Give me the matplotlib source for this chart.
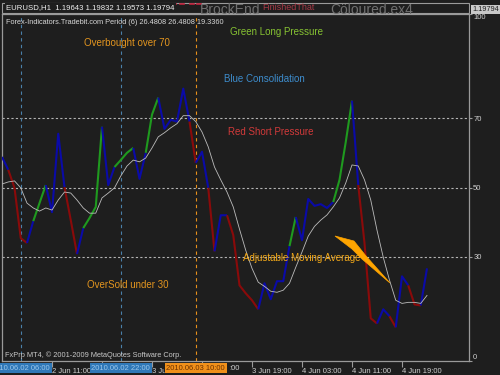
import matplotlib
matplotlib.use("Agg")
import matplotlib.pyplot as plt
from matplotlib.patches import Polygon, Rectangle
from matplotlib.lines import Line2D

# ---------------- data ----------------
# hours since 2 Jun 2010 00:00 (H1 bars), first bar at 03:00
hours = list(range(3, 72))
rsi = [58.8, 55.1, 49.9, 35.4, 34.0, 40.3, 45.5, 50.7, 42.9, 65.5,
       50.1, 40.6, 30.8, 38.3, 41.2, 44.4, 67.5, 50.7, 55.9, 57.9,
       60.0, 61.4, 52.5, 60.0, 71.0, 75.9, 66.9, 69.5, 69.0, 78.5,
       69.0, 57.1, 60.3, 49.9, 31.6, 42.0, 42.0, 36.3, 21.8, 19.5,
       17.5, 14.9, 22.4, 17.8, 23.0, 23.0, 33.1, 41.5, 34.8, 46.7,
       44.7, 45.2, 44.1, 45.8, 52.2, 63.1, 75.0, 50.7, 34.0, 12.3,
       10.8, 14.9, 12.9, 9.7, 24.4, 21.8, 16.3, 16.0, 26.7]
ma = [51.0, 51.6, 51.9, 49.9, 45.5, 44.1, 43.2, 44.1, 43.5, 46.4,
      48.7, 48.4, 46.4, 44.1, 42.6, 42.6, 47.0, 48.4, 49.9, 53.3,
      56.2, 57.9, 57.4, 58.5, 61.4, 64.6, 65.8, 67.2, 68.4, 70.7,
      70.7, 69.0, 66.0, 61.7, 55.9, 52.2, 48.7, 44.4, 38.0, 31.9,
      26.7, 22.7, 21.5, 20.1, 19.8, 20.4, 22.4, 27.0, 31.4, 36.0,
      38.8, 40.6, 42.1, 44.4, 47.0, 51.3, 56.5, 56.2, 52.2, 46.4,
      37.7, 29.9, 23.3, 17.5, 16.6, 16.9, 16.9, 16.6, 18.9]
# colour state of each segment between consecutive bars: B=consolidation, G=long, R=short
seg_state = ("BRRRBGGBBBRRBGGGBBGGGBBGGBBBBBRBBRBBRRRRRBBBBBGBBBBBBGGGBRRRBBRBBRRB")
levels = [30, 50, 70]
ytick_vals = [0, 30, 50, 70, 100]
xtick_hours = [11, 19, 27, 35, 43, 51, 59, 67]
# labels partly hidden behind the highlighted time boxes, as in the screenshot
xtick_labels = ["2 Jun 11:00", "", "3 Ju", "",
                "3 Jun 19:00", "4 Jun 03:00", "4 Jun 11:00", "4 Jun 19:00"]
vlines_hours = [6, 22, 34]
vlines_labels = ["2010.06.02 06:00", "2010.06.02 22:00", "2010.06.03 10:00"]
vlines_kind = ["blue", "blue", "orange"]

# ---------------- style ----------------
BG = "#1e1e1e"
FONT = "Liberation Sans"
colors = {"B": "#0a0aa8", "G": "#1f9a1f", "R": "#8a0a0a"}

W, H = 500, 375
fig = plt.figure(figsize=(5, 3.75), dpi=100, facecolor=BG)

def fx(px):
    return px / W

def fy(py):
    return 1 - py / H

L, R, T, B = 2, 469, 14, 361
ax = fig.add_axes([fx(L), fy(B), fx(R) - fx(L), (B - T) / H])
ax.set_facecolor(BG)
ax.set_xlim(3, 3 + (R - L) / 6.25)
ax.set_ylim(0, 100)
for s in ax.spines.values():
    s.set_color("#9a9a9a")
    s.set_linewidth(0.9)

# levels
for lv in levels:
    ax.axhline(lv, color="#b4b4b4", lw=0.8, ls=(0, (2, 2)), zorder=1)
# vertical event lines
for hv, kind in zip(vlines_hours, vlines_kind):
    c = "#4a80aa" if kind == "blue" else "#e8901c"
    ax.axvline(hv, color=c, lw=0.8, ls=(0, (3, 3)), zorder=1)

# coloured RSI: group consecutive segments of same state
start = 0
for k in range(1, len(seg_state) + 1):
    if k == len(seg_state) or seg_state[k] != seg_state[start]:
        xs = hours[start:k + 1]
        ys = rsi[start:k + 1]
        ax.plot(xs, ys, color=colors[seg_state[start]], lw=1.5,
                solid_joinstyle="round", solid_capstyle="butt", zorder=3)
        start = k
# moving average
ax.plot(hours, ma, color="#bcbcbc", lw=0.6, zorder=4)

# right axis ticks
ax.yaxis.tick_right()
ax.set_yticks(ytick_vals)
ax.set_yticklabels([str(v) for v in ytick_vals])
ax.tick_params(axis="y", colors="#9a9a9a", length=2, width=0.8, pad=1,
               labelsize=5.5, labelcolor="#d0d0d0")
for t, v in zip(ax.get_yticklabels(), ytick_vals):
    t.set_fontfamily(FONT)
    if v == 100:
        t.set_verticalalignment("top")
    elif v == 0:
        t.set_verticalalignment("bottom")

ax.set_xticks(xtick_hours)
ax.set_xticklabels(xtick_labels)
ax.tick_params(axis="x", colors="#9a9a9a", length=4, width=0.8, pad=1,
               labelsize=5.5, labelcolor="#d0d0d0")
for t in ax.get_xticklabels():
    t.set_horizontalalignment("left")
    t.set_fontfamily(FONT)

# annotations
def atext(px, py, s, color, size=7, ha="center"):
    fig.text(fx(px), fy(py), s, color=color, fontsize=size, ha=ha,
             va="center", family=FONT)

atext(127, 43, "Overbought over 70", "#e3951e")
atext(277, 32, "Green Long Pressure", "#86c232")
atext(264, 79, "Blue Consolidation", "#3d8ccc")
atext(271, 132, "Red Short Pressure", "#d23a3a")
atext(302, 258, "Adjustable Moving Average", "#f2a818")
atext(128, 285, "OverSold under 30", "#e3951e")
atext(6, 22, "Forex-Indicators.Tradebit.com Period (6) 26.4808 26.4808 19.3360",
      "#d8d8d8", size=5.3, ha="left")
atext(5, 355, "FxPrp MT4, \u00a9 2001-2009 MetaQuotes Software Corp.",
      "#c8c8c8", size=5.3, ha="left")
# visible tail of the hidden "3 Jun 11:00" label
atext(229, 368, ":00", "#d0d0d0", size=5.5, ha="left")

# orange arrow wedge (annotation graphic) in axes-fraction coords
wedge_px = [(335, 236), (354, 241), (366, 256), (390, 283), (362, 259), (352, 249)]
wedge = Polygon([((x - L) / (R - L), (B - y) / (B - T)) for x, y in wedge_px],
                closed=True, transform=ax.transAxes, facecolor="#ffa500",
                edgecolor="#ffa500", lw=0.5, zorder=6)
ax.add_patch(wedge)

# top header strip
fig.patches.append(Rectangle((fx(2), fy(13)), fx(467), 10 / H, transform=fig.transFigure,
                             facecolor=BG, edgecolor="#9a9a9a", lw=0.8, zorder=1))
fig.text(fx(200), fy(10), "BrockEnd", color="#707070", fontsize=10, ha="left",
         va="center", family=FONT, zorder=2)
fig.text(fx(330), fy(10), "C\u00f6loured.ex4", color="#707070", fontsize=10,
         ha="left", va="center", family=FONT, zorder=2)
fig.text(fx(262), fy(7), "FinishedThat", color="#c84050", fontsize=6.5, ha="left",
         va="center", family=FONT, zorder=3, alpha=0.8)
for xd in [172, 180, 190, 197]:
    fig.lines.append(Line2D([fx(xd), fx(xd + 4)], [fy(4), fy(4)], color="#c0203a",
                            lw=1.2, transform=fig.transFigure))
fig.text(fx(6), fy(7.5), "EURUSD,H1  1.19643 1.19832 1.19573 1.19794", color="#f0f0f0",
         fontsize=5.6, ha="left", va="center", family=FONT, zorder=4,
         bbox=dict(facecolor=BG, edgecolor="none", pad=1))
# current price label
fig.text(fx(472), fy(9.5), "1.19794", color="#202020", fontsize=5.3, ha="left",
         va="center", family=FONT, zorder=4,
         bbox=dict(facecolor="#c8c8c8", edgecolor="none", pad=1))

# bottom highlighted time labels
for hv, lab, kind in zip(vlines_hours, vlines_labels, vlines_kind):
    px = L + (hv - 3) * 6.25
    if kind == "blue":
        fc, tc = "#2f78b8", "#9cc6ea"
    else:
        fc, tc = "#f0901a", "#6a3000"
    fig.text(fx(px), fy(368), lab, color=tc, fontsize=5.5, ha="center", va="center",
             family=FONT, zorder=5, bbox=dict(facecolor=fc, edgecolor="none", pad=1.2))

fig.savefig("out.png", dpi=100, facecolor=BG)
